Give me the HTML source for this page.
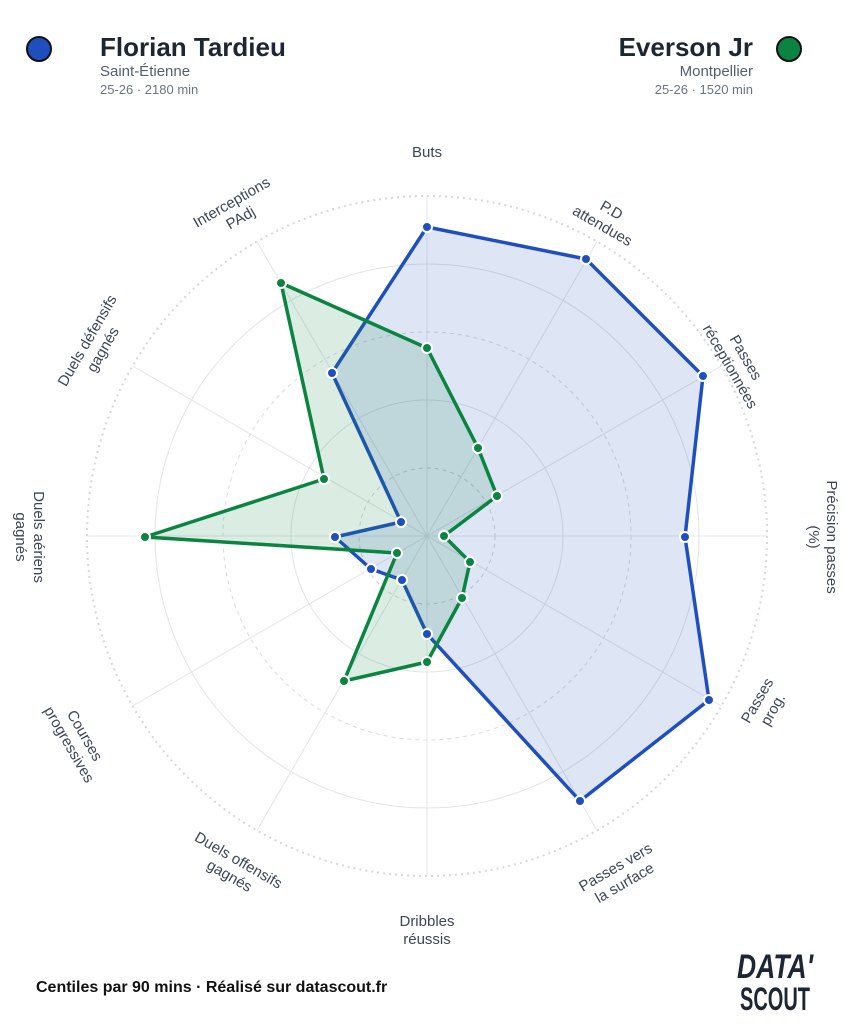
<!DOCTYPE html>
<html><head><meta charset="utf-8"><style>
body{margin:0;background:#fff;width:853px;height:1024px;overflow:hidden;font-family:"Liberation Sans",sans-serif}
</style></head><body>
<svg width="853" height="1024" viewBox="0 0 853 1024" xmlns="http://www.w3.org/2000/svg" font-family="Liberation Sans, sans-serif">
<rect width="853" height="1024" fill="#fff"/>
<circle cx="39" cy="49" r="12" fill="#1f4fbf" stroke="#111" stroke-width="2"/>
<text x="100" y="56" font-size="26" font-weight="bold" fill="#1e2633">Florian Tardieu</text>
<text x="100" y="76" font-size="15" fill="#555e6c">Saint-Étienne</text>
<text x="100" y="94" font-size="13" fill="#6b7382">25-26 · 2180 min</text>
<circle cx="789" cy="49" r="12" fill="#0b8442" stroke="#111" stroke-width="2"/>
<text x="753" y="56" font-size="26" font-weight="bold" fill="#1e2633" text-anchor="end">Everson Jr</text>
<text x="753" y="76" font-size="15" fill="#555e6c" text-anchor="end">Montpellier</text>
<text x="753" y="94" font-size="13" fill="#6b7382" text-anchor="end">25-26 · 1520 min</text>
<g fill="none">
<circle cx="427" cy="536" r="68" stroke="#cfd3da" stroke-dasharray="4 4"/>
<circle cx="427" cy="536" r="136" stroke="#e1e3e8"/>
<circle cx="427" cy="536" r="204" stroke="#d8dbe0" stroke-dasharray="4 4"/>
<circle cx="427" cy="536" r="272" stroke="#e1e3e8"/>
<circle cx="427" cy="536" r="340" stroke="#d5d7db" stroke-width="2" stroke-dasharray="2 4"/>
</g>
<g stroke="#e2e4e8" stroke-width="1">
<line x1="427" y1="196" x2="427" y2="876"/>
<line x1="597" y1="241.6" x2="257" y2="830.4"/>
<line x1="721.4" y1="366" x2="132.6" y2="706"/>
<line x1="767" y1="536" x2="87" y2="536"/>
<line x1="721.4" y1="706" x2="132.6" y2="366"/>
<line x1="597" y1="830.4" x2="257" y2="241.6"/>
</g>
<polygon points="427,227 586,259 703,376 685,537 709,700 580,801 427,634 402,580 371,569 335,537 401,522 332,373" fill="rgba(31,79,191,0.15)" stroke="#1f4fbf" stroke-width="3.5" stroke-linejoin="round"/>
<polygon points="427,348 478,448 497,496 444,536 470,562 462,598 427,662 344,681 397,553 145,537 324,479 281,283" fill="rgba(11,132,66,0.15)" stroke="#0b8442" stroke-width="3.5" stroke-linejoin="round"/>
<g fill="#1f4fbf" stroke="#fff" stroke-width="2">
<circle cx="427" cy="227" r="5"/><circle cx="586" cy="259" r="5"/><circle cx="703" cy="376" r="5"/><circle cx="685" cy="537" r="5"/><circle cx="709" cy="700" r="5"/><circle cx="580" cy="801" r="5"/><circle cx="427" cy="634" r="5"/><circle cx="402" cy="580" r="5"/><circle cx="371" cy="569" r="5"/><circle cx="335" cy="537" r="5"/><circle cx="401" cy="522" r="5"/><circle cx="332" cy="373" r="5"/>
</g>
<g fill="#0b8442" stroke="#fff" stroke-width="2">
<circle cx="427" cy="348" r="5"/><circle cx="478" cy="448" r="5"/><circle cx="497" cy="496" r="5"/><circle cx="444" cy="536" r="5"/><circle cx="470" cy="562" r="5"/><circle cx="462" cy="598" r="5"/><circle cx="427" cy="662" r="5"/><circle cx="344" cy="681" r="5"/><circle cx="397" cy="553" r="5"/><circle cx="145" cy="537" r="5"/><circle cx="324" cy="479" r="5"/><circle cx="281" cy="283" r="5"/>
</g>
<g font-size="15" fill="#3d4657" text-anchor="middle">
<text x="427" y="157">Buts</text>
<text transform="translate(607,218) rotate(30)"><tspan x="0" y="-4">P.D</tspan><tspan x="0" y="14">attendues</tspan></text>
<text transform="translate(738,362) rotate(60)"><tspan x="0" y="-4">Passes</tspan><tspan x="0" y="14">réceptionnées</tspan></text>
<text transform="translate(823,537) rotate(90)"><tspan x="0" y="-4">Précision passes</tspan><tspan x="0" y="14">(%)</tspan></text>
<text transform="translate(765,705) rotate(-60)"><tspan x="0" y="-4">Passes</tspan><tspan x="0" y="14">prog.</tspan></text>
<text transform="translate(620,875) rotate(-30)"><tspan x="0" y="-4">Passes vers</tspan><tspan x="0" y="14">la surface</tspan></text>
<text transform="translate(427,930)"><tspan x="0" y="-4">Dribbles</tspan><tspan x="0" y="14">réussis</tspan></text>
<text transform="translate(234,868) rotate(30)"><tspan x="0" y="-4">Duels offensifs</tspan><tspan x="0" y="14">gagnés</tspan></text>
<text transform="translate(77,740) rotate(60)"><tspan x="0" y="-4">Courses</tspan><tspan x="0" y="14">progressives</tspan></text>
<text transform="translate(30,537) rotate(90)"><tspan x="0" y="-4">Duels aériens</tspan><tspan x="0" y="14">gagnés</tspan></text>
<text transform="translate(95,345) rotate(-60)"><tspan x="0" y="-4">Duels défensifs</tspan><tspan x="0" y="14">gagnés</tspan></text>
<text transform="translate(236,210) rotate(-30)"><tspan x="0" y="-4">Interceptions</tspan><tspan x="0" y="14">PAdj</tspan></text>
</g>
<text x="36" y="992" font-size="16" font-weight="bold" fill="#111">Centiles par 90 mins · Réalisé sur datascout.fr</text>
<text x="775" y="978" font-size="34" font-weight="bold" font-style="italic" fill="#1e2633" text-anchor="middle" textLength="76" lengthAdjust="spacingAndGlyphs">DATA'</text>
<text x="775" y="1010" font-size="32" font-weight="bold" fill="#1e2633" text-anchor="middle" textLength="70" lengthAdjust="spacingAndGlyphs">SCOUT</text>
</svg>
</body></html>
